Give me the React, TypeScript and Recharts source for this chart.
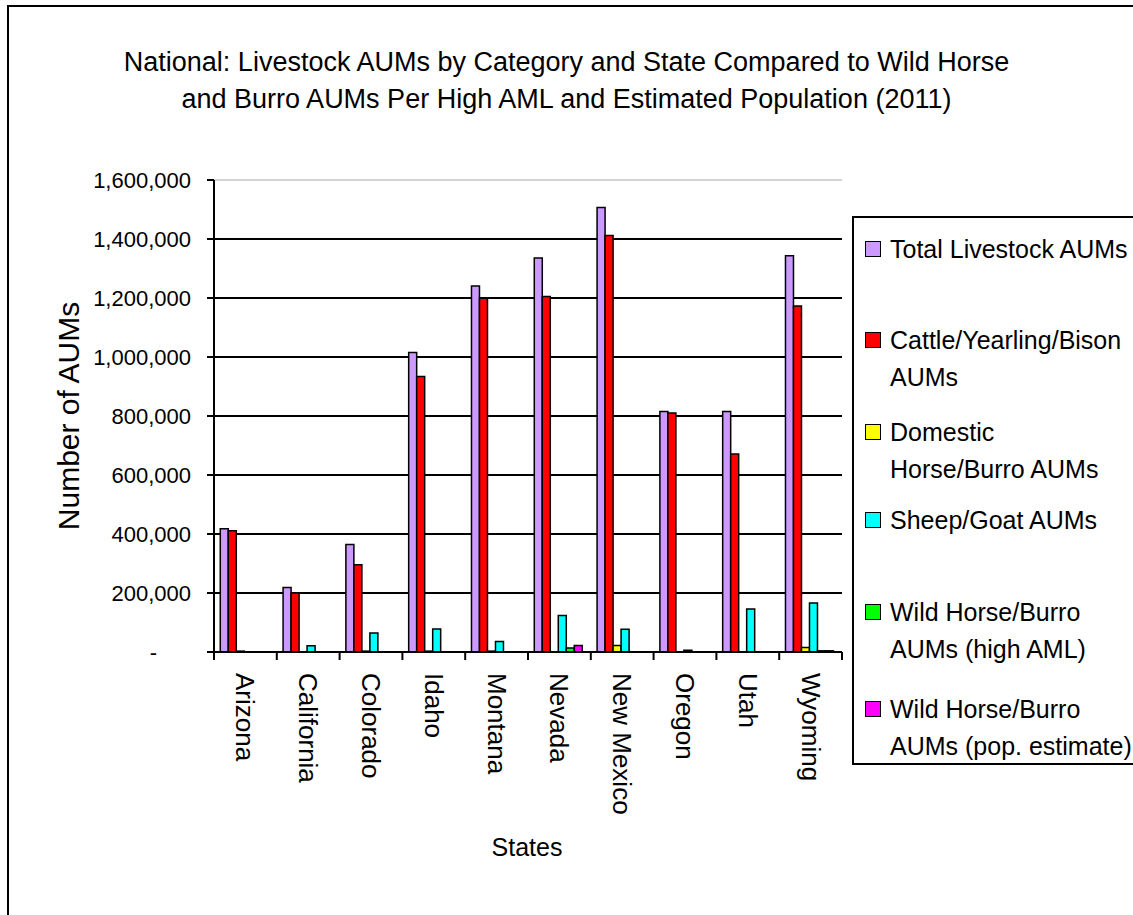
import { BarChart, Bar, XAxis, YAxis, CartesianGrid, Legend, ReferenceLine, Label } from 'recharts';

const states = ['Arizona', 'California', 'Colorado', 'Idaho', 'Montana', 'Nevada', 'New Mexico', 'Oregon', 'Utah', 'Wyoming'];
const totalLivestock = [418000, 219000, 364000, 1015000, 1241000, 1336000, 1507000, 815000, 815000, 1343000];
const cattleYearlingBison = [411000, 200000, 296000, 934000, 1199000, 1205000, 1412000, 810000, 671000, 1173000];
const domesticHorseBurro = [3000, 0, 3000, 3000, 3000, 0, 22000, 0, 0, 15000];
const sheepGoat = [0, 21000, 64000, 78000, 36000, 124000, 77000, 6000, 146000, 166000];
const wildHighAml = [0, 0, 0, 0, 0, 13500, 0, 0, 0, 4000];
const wildPopEstimate = [0, 0, 0, 0, 0, 22000, 0, 0, 0, 4000];
const yTicks = [0, 200000, 400000, 600000, 800000, 1000000, 1200000, 1400000, 1600000];

const series = [
  { key: 'total', name: 'Total Livestock AUMs', lines: ['Total Livestock AUMs'], color: '#CC99FF', values: totalLivestock },
  { key: 'cattle', name: 'Cattle/Yearling/Bison AUMs', lines: ['Cattle/Yearling/Bison', 'AUMs'], color: '#FF0000', values: cattleYearlingBison },
  { key: 'domestic', name: 'Domestic Horse/Burro AUMs', lines: ['Domestic', 'Horse/Burro AUMs'], color: '#FFFF00', values: domesticHorseBurro },
  { key: 'sheep', name: 'Sheep/Goat AUMs', lines: ['Sheep/Goat AUMs'], color: '#00FFFF', values: sheepGoat },
  { key: 'wildHigh', name: 'Wild Horse/Burro AUMs (high AML)', lines: ['Wild Horse/Burro', 'AUMs (high AML)'], color: '#00FF00', values: wildHighAml },
  { key: 'wildPop', name: 'Wild Horse/Burro AUMs (pop. estimate)', lines: ['Wild Horse/Burro', 'AUMs (pop. estimate)'], color: '#FF00FF', values: wildPopEstimate },
];

const data = states.map((state, i) => {
  const row: Record<string, string | number> = { state };
  series.forEach(s => {
    row[s.key] = s.values[i];
  });
  return row;
});

const FONT = '"Liberation Sans", Arial, sans-serif';
// first-line centre of each legend entry, measured from the legend box top
const legendRows = [31, 122, 214, 302, 394, 491];

const YTick = (props: any) => {
  const { x, y, payload } = props;
  const isZero = payload.value === 0;
  const label = isZero ? '-' : payload.value.toLocaleString('en-US');
  return (
    <text x={x - (isZero ? 48 : 14)} y={y} textAnchor="end" dominantBaseline="central" fontSize={22} fontFamily={FONT} fill="#000">
      {label}
    </text>
  );
};

const XTick = (props: any) => {
  const { x, y, payload, index } = props;
  const half = payload.offset || 31.4;
  return (
    <g>
      <line x1={x - half} y1={y - 8} x2={x - half} y2={y} stroke="#000" strokeWidth={2} />
      {index === states.length - 1 && <line x1={x + half} y1={y - 8} x2={x + half} y2={y} stroke="#000" strokeWidth={2} />}
      <text transform={`translate(${x},${y + 13}) rotate(90)`} textAnchor="start" dominantBaseline="central" fontSize={26} fontFamily={FONT} fill="#000">
        {payload.value}
      </text>
    </g>
  );
};

const renderLegend = (props: any) => {
  const { payload } = props;
  return (
    <div style={{ position: 'relative', width: 300, height: 549, border: '2px solid #000', boxSizing: 'border-box', background: '#fff', fontFamily: FONT }}>
      {(payload || []).map((entry: any) => {
        const idx = series.findIndex(s => s.key === entry.dataKey);
        if (idx < 0) return null;
        return (
          <div key={series[idx].key} style={{ position: 'absolute', left: 11, top: legendRows[idx] - 18.5, display: 'flex', alignItems: 'flex-start' }}>
            <span style={{ display: 'inline-block', width: 16, height: 16, marginTop: 10.5, border: '1.5px solid #000', boxSizing: 'border-box', background: series[idx].color }} />
            <div style={{ marginLeft: 9, fontSize: 25, lineHeight: '37px', color: '#000', whiteSpace: 'nowrap' }}>
              {series[idx].lines.map(line => (
                <div key={line}>{line}</div>
              ))}
            </div>
          </div>
        );
      })}
    </div>
  );
};

export default function App() {
  return (
    <div style={{ position: 'absolute', left: 0, top: 0, width: 1133, height: 915, overflow: 'hidden', background: '#fff', fontFamily: FONT }}>
      <div style={{ position: 'absolute', left: 7, top: 5, width: 1200, height: 1000, border: '2px solid #000' }} />
      <div style={{ position: 'absolute', left: 0, top: 44, width: 1133, textAlign: 'center', fontSize: 27, lineHeight: '37px', color: '#000' }}>
        <div>National: Livestock AUMs by Category and State Compared to Wild Horse</div>
        <div>and Burro AUMs Per High AML and Estimated Population (2011)</div>
      </div>
      <div style={{ position: 'absolute', left: 0, top: 0 }}>
        <BarChart
          width={1133}
          height={915}
          data={data}
          margin={{ top: 180, right: 291, bottom: 0, left: 0 }}
          barCategoryGap="10%"
          barGap={0}
        >
          <CartesianGrid vertical={false} stroke="#000" strokeWidth={2} />
          <ReferenceLine y={1600000} stroke="#d4d4d4" strokeWidth={2} />
          <XAxis
            dataKey="state"
            height={263}
            interval={0}
            tickLine={false}
            tickSize={8}
            tickMargin={0}
            axisLine={{ stroke: '#000', strokeWidth: 2 }}
            tick={<XTick />}
          >
            <Label
              content={() => (
                <text x={527} y={847} textAnchor="middle" dominantBaseline="central" fontSize={25} fontFamily={FONT} fill="#000">
                  States
                </text>
              )}
            />
          </XAxis>
          <YAxis
            width={214}
            domain={[0, 1600000]}
            ticks={yTicks}
            interval={0}
            tickSize={7}
            axisLine={{ stroke: '#000', strokeWidth: 2 }}
            tickLine={{ stroke: '#000', strokeWidth: 2 }}
            tick={<YTick />}
          >
            <Label
              content={() => (
                <text x={68} y={416} transform="rotate(-90 68 416)" textAnchor="middle" dominantBaseline="central" fontSize={30} fontFamily={FONT} fill="#000">
                  Number of AUMs
                </text>
              )}
            />
          </YAxis>
          <Legend
            layout="vertical"
            align="center"
            verticalAlign="middle"
            wrapperStyle={{ left: 852, top: 216, width: 300, height: 549 }}
            content={renderLegend}
          />
          {series.map(s => (
            <Bar
              key={s.key}
              dataKey={s.key}
              name={s.name}
              fill={s.color}
              stroke="#000"
              strokeWidth={1.5}
              isAnimationActive={false}
            />
          ))}
        </BarChart>
      </div>
    </div>
  );
}
